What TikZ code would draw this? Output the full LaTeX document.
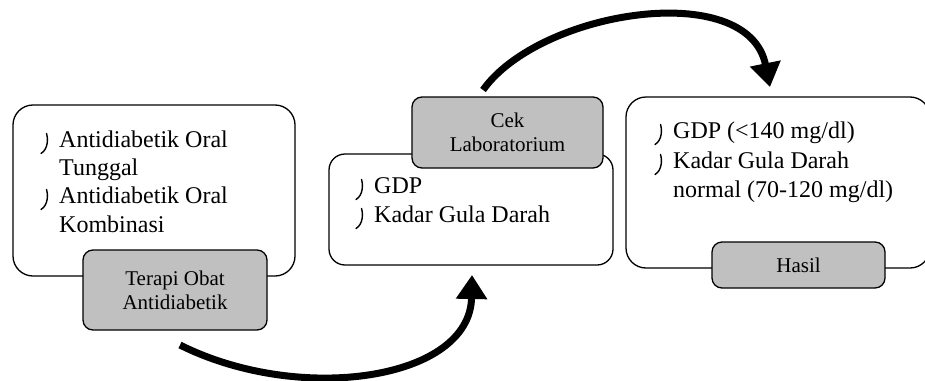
\documentclass[tikz,border=0pt]{standalone}
\usepackage{fontspec}
\setmainfont{Liberation Serif}
\usetikzlibrary{arrows.meta}
\begin{document}
\begin{tikzpicture}[x=1pt,y=-1pt,
  whitebox/.style={draw, line width=1.3pt, fill=white, inner sep=0pt},
  graybox/.style={draw, line width=1.3pt, fill=boxgray, inner sep=0pt, rounded corners=10pt,
    align=center, font=\fontsize{21}{24}\selectfont},
  itemtext/.style={inner sep=0pt, anchor=base west, font=\fontsize{24}{28}\selectfont},
  flow/.style={line width=7pt, -{Triangle[length=24pt,width=30pt]}},
  jbul/.pic={\draw[line width=1.4pt, line cap=round] (-12.5,-13.5) .. controls (-11,-9) and (-10.5,2) .. (-18,6.5);}
]
\definecolor{boxgray}{HTML}{C0C0C0}
\useasboundingbox (0,0) rectangle (925,380);
\clip (0,0) rectangle (925,380);

% white boxes
\node[whitebox, rounded corners=20pt, minimum width=282pt, minimum height=171pt] (b1) at (154,190.5) {};
\node[whitebox, rounded corners=16pt, minimum width=284pt, minimum height=111pt] (b2) at (471,209.5) {};
\node[whitebox, rounded corners=20pt, minimum width=304pt, minimum height=171pt] (b3) at (778,182.5) {};

% gray boxes
\node[graybox, minimum width=184pt, minimum height=80pt] (g1) at (175,290) {Terapi Obat\\Antidiabetik};
\node[graybox, minimum width=191pt, minimum height=71pt] (g2) at (507.5,132.5) {Cek\\Laboratorium};
\node[graybox, minimum width=173pt, minimum height=46pt] (g3) at (798.5,265) {Hasil};

% box 1 text
\node[itemtext] (t1a) at (59,147) {Antidiabetik Oral};
\node[itemtext] (t1b) at (59,175) {Tunggal};
\node[itemtext] (t1c) at (59,203) {Antidiabetik Oral};
\node[itemtext] (t1d) at (59,232) {Kombinasi};
\pic at (t1a.base west) {jbul};
\pic at (t1c.base west) {jbul};

% box 2 text
\node[itemtext] (t2a) at (374,193) {GDP};
\node[itemtext] (t2b) at (374,222) {Kadar Gula Darah};
\pic at (t2a.base west) {jbul};
\pic at (t2b.base west) {jbul};

% box 3 text
\node[itemtext] (t3a) at (673,138) {GDP (<140 mg/dl)};
\node[itemtext] (t3b) at (673,168) {Kadar Gula Darah};
\node[itemtext] (t3c) at (673,197) {normal (70-120 mg/dl)};
\pic at (t3a.base west) {jbul};
\pic at (t3b.base west) {jbul};

% arrows
\coordinate (a1s) at (180,345);
\coordinate (a1e) at (472,275);
\coordinate (a2s) at (483,90);
\coordinate (a2e) at (770,87);
\draw[flow] (a1s) .. controls (300,405) and (470,380) .. (a1e);
\draw[flow] (a2s) .. controls (540,10) and (748,-22) .. (a2e);
\end{tikzpicture}
\end{document}
